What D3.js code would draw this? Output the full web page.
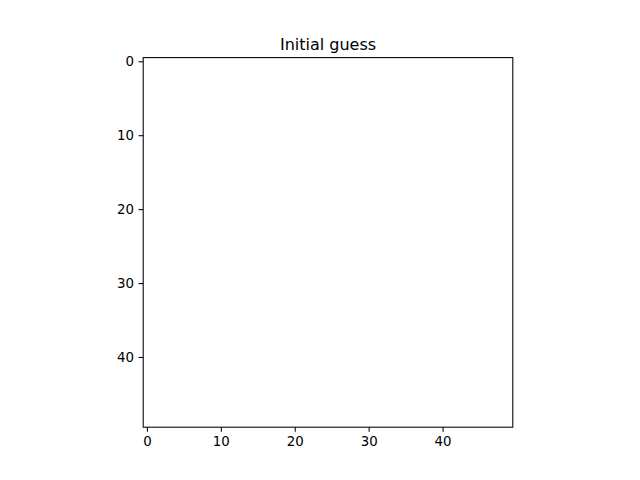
<!DOCTYPE html>
<html lang="en">
<head>
    <meta charset="UTF-8">
    <title>Initial guess</title>
    <script src="https://d3js.org/d3.v7.min.js"></script>
    <style>
        body { margin: 0; background: #fff; }
        svg { display: block; font-family: "DejaVu Sans", sans-serif; }
    </style>
</head>
<body>
    <div id="chart"></div>

    <script>
        // Image extent (pixel centres 0..49) and tick labels
        const imageSize = [50, 50];
        const xTicks = [0, 10, 20, 30, 40];
        const yTicks = [0, 10, 20, 30, 40];
        const title = "Initial guess";

        const width = 640, height = 480;
        // matplotlib default subplot box, square aspect for imshow
        const plotH = 0.77 * height;
        const plotW = plotH;
        const marginLeft = (0.125 * width + 0.9 * width) / 2 - plotW / 2;
        const marginTop = height * (1 - 0.88);

        const svg = d3.select("#chart")
            .append("svg")
            .attr("width", width)
            .attr("height", height);

        const g = svg.append("g")
            .attr("transform", `translate(${marginLeft},${marginTop})`);

        const x = d3.scaleLinear()
            .domain([-0.5, imageSize[0] - 0.5])
            .range([0, plotW]);

        const y = d3.scaleLinear()
            .domain([-0.5, imageSize[1] - 0.5])
            .range([0, plotH]);

        // blank image area
        g.append("rect")
            .attr("x", x(-0.5))
            .attr("y", y(-0.5))
            .attr("width", x(imageSize[0] - 0.5) - x(-0.5))
            .attr("height", y(imageSize[1] - 0.5) - y(-0.5))
            .attr("fill", "#ffffff");

        const tickLen = 3.5 * 4 / 3;
        const tickPad = 3.5 * 4 / 3;

        const xAxis = g.append("g")
            .attr("transform", `translate(0,${plotH})`)
            .call(d3.axisBottom(x).tickValues(xTicks).tickSize(tickLen).tickPadding(tickPad));

        const yAxis = g.append("g")
            .call(d3.axisLeft(y).tickValues(yTicks).tickSize(tickLen).tickPadding(tickPad));

        [xAxis, yAxis].forEach(ax => {
            ax.select(".domain").remove();
            ax.selectAll(".tick line").attr("stroke", "#000").attr("stroke-width", 0.8 * 4 / 3);
            ax.selectAll(".tick text")
                .attr("fill", "#000")
                .style("font-size", "13.33px")
                .style("font-family", "DejaVu Sans");
        });

        // axes frame
        g.append("rect")
            .attr("x", 0)
            .attr("y", 0)
            .attr("width", plotW)
            .attr("height", plotH)
            .attr("fill", "none")
            .attr("stroke", "#000")
            .attr("stroke-width", 0.8 * 4 / 3);

        svg.append("text")
            .attr("x", marginLeft + plotW / 2)
            .attr("y", marginTop - 6 * 4 / 3)
            .attr("text-anchor", "middle")
            .style("font-size", "16px")
            .attr("fill", "#000")
            .text(title);
    </script>
</body>
</html>
